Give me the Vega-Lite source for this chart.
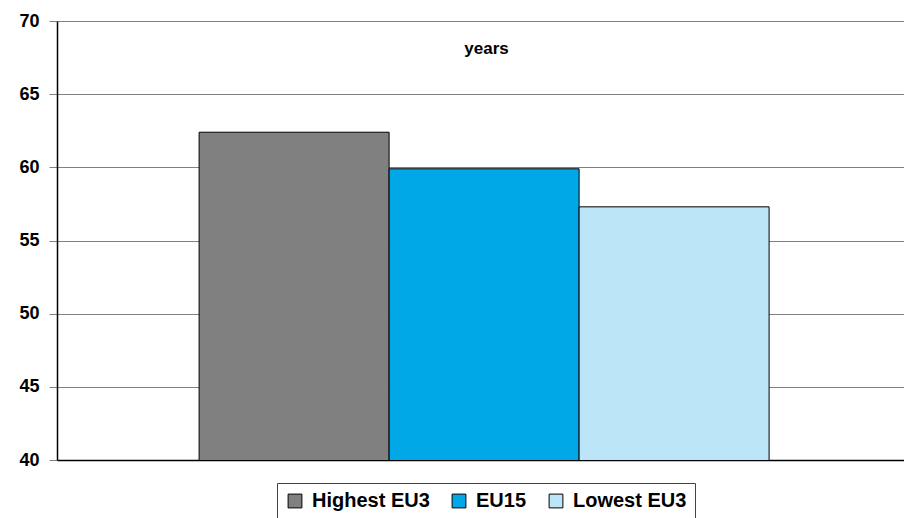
{
  "$schema": "https://vega.github.io/schema/vega-lite/v6.json",
  "autosize": {"type": "none"},
  "width": 847,
  "height": 439,
  "padding": {"left": 57, "top": 21, "right": 0, "bottom": 58},
  "background": "white",
  "config": {
    "view": {"stroke": null},
    "font": "Liberation Sans"
  },
  "title": {
    "text": "years",
    "fontSize": 17,
    "fontWeight": "bold",
    "font": "Liberation Sans",
    "color": "black",
    "anchor": "middle",
    "offset": -46,
    "dx": 6
  },
  "data": {
    "values": [
      {"series": "Highest EU3", "value": 62.4},
      {"series": "EU15", "value": 59.9},
      {"series": "Lowest EU3", "value": 57.3}
    ]
  },
  "mark": {"type": "bar", "stroke": "black", "strokeWidth": 1, "clip": true},
  "encoding": {
    "x": {
      "field": "series",
      "type": "nominal",
      "sort": ["Highest EU3", "EU15", "Lowest EU3"],
      "scale": {"paddingInner": 0, "paddingOuter": 0.729, "align": 0.513},
      "axis": {"labels": false, "ticks": false, "title": null, "domainColor": "black", "domainWidth": 1.5}
    },
    "y": {
      "field": "value",
      "type": "quantitative",
      "scale": {"domain": [40, 70], "zero": false, "nice": false},
      "axis": {
        "values": [40, 45, 50, 55, 60, 65, 70],
        "title": null,
        "labelFontSize": 18,
        "labelFontWeight": "bold",
        "labelColor": "black",
        "labelPadding": 10,
        "tickSize": 8,
        "tickColor": "#808080",
        "domainColor": "black",
        "domainWidth": 1.5,
        "gridColor": "#808080",
        "gridWidth": 1,
        "gridOpacity": 1
      }
    },
    "fill": {
      "field": "series",
      "type": "nominal",
      "sort": ["Highest EU3", "EU15", "Lowest EU3"],
      "scale": {"domain": ["Highest EU3", "EU15", "Lowest EU3"], "range": ["#808080", "#00a8e8", "#bde5f8"]},
      "legend": {
        "title": null,
        "orient": "none",
        "legendX": 220,
        "legendY": 462,
        "direction": "horizontal",
        "labelFontSize": 20,
        "labelFontWeight": "bold",
        "labelColor": "black",
        "symbolType": "square",
        "symbolSize": 190,
        "symbolStrokeColor": "black",
        "symbolStrokeWidth": 1,
        "strokeColor": "#444444",
        "padding": 8,
        "columnPadding": 19,
        "labelOffset": 7
      }
    }
  }
}
